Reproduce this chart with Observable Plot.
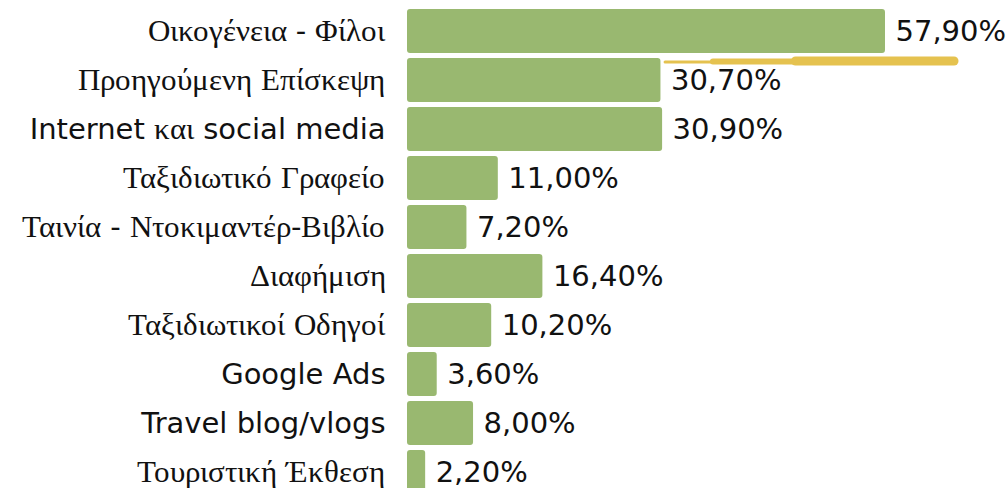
<!DOCTYPE html>
<html><head><meta charset="utf-8">
<script src="https://cdn.jsdelivr.net/npm/d3@7"></script>
<script src="https://cdn.jsdelivr.net/npm/@observablehq/plot@0.6"></script>
<style>
@font-face { font-family: "MixGrk"; src: local("Liberation Serif"), local("LiberationSerif"); unicode-range: U+0370-03FF, U+1F00-1FFF; size-adjust: 108%; }
html, body { margin: 0; padding: 0; background: #fff; }
#chart svg { font-family: "MixGrk", "DejaVu Sans", "Inter", sans-serif; }
</style>
</head><body><div id="chart"></div>
<script>
const categories = ["Οικογένεια - Φίλοι", "Προηγούμενη Επίσκεψη", "Internet και social media", "Ταξιδιωτικό Γραφείο", "Ταινία - Ντοκιμαντέρ-Βιβλίο", "Διαφήμιση", "Ταξιδιωτικοί Οδηγοί", "Google Ads", "Travel blog/vlogs", "Τουριστική Έκθεση"];
const values = [57.9, 30.7, 30.9, 11.0, 7.2, 16.4, 10.2, 3.6, 8.0, 2.2];
const highlightSegments = [
  {x1: 31.2, x2: 40, w: 3, dy: 30.5},
  {x1: 37, x2: 50, w: 6, dy: 30},
  {x1: 47, x2: 66.2, w: 9, dy: 29.5}
];

const data = categories.map((c, i) => ({cat: c, value: values[i]}));
const loc = d3.formatLocale({decimal: ",", thousands: ".", grouping: [3], currency: ["", "€"]});
const fmt = v => loc.format(".2f")(v) + "%";

const chart = Plot.plot({
  width: 1008,
  height: 488,
  marginLeft: 407,
  marginRight: 0,
  marginTop: 0,
  marginBottom: 0,
  x: {domain: [0, 72.8], axis: null},
  y: {domain: categories, range: [4.1, 499], axis: null, padding: 0.1},
  style: {fontSize: "29px", color: "#111", background: "#fff"},
  marks: [
    Plot.barX(data, {x: "value", y: "cat", fill: "#99b870", rx: 3}),
    Plot.text(data, {x: "value", y: "cat", text: d => fmt(d.value), textAnchor: "start", dx: 10, fontSize: 29, fill: "#111"}),
    Plot.text(data, {x: 0, y: "cat", text: "cat", textAnchor: "end", dx: -22, fontSize: 29, fill: "#111"}),
    ...highlightSegments.map(s => Plot.link([{x1: s.x1, x2: s.x2, y: categories[0]}], {x1: "x1", x2: "x2", y1: "y", y2: "y", dy: s.dy, stroke: "#e5c24f", strokeWidth: s.w, strokeLinecap: "round"}))
  ]
});
document.getElementById("chart").appendChild(chart);
</script>
</body></html>
